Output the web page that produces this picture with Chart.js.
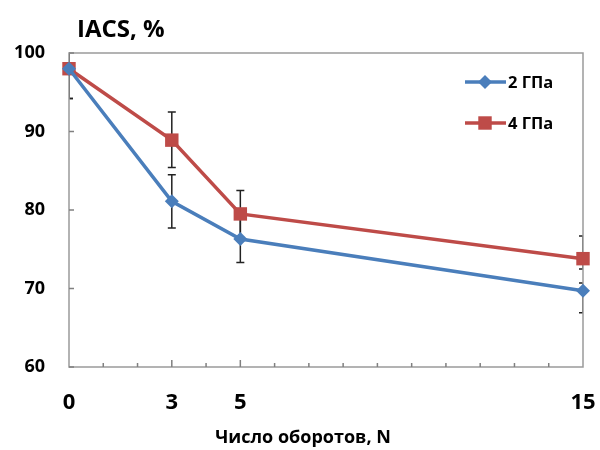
<!DOCTYPE html>
<html><head><meta charset="utf-8">
<script src="https://cdn.jsdelivr.net/npm/chart.js@4/dist/chart.umd.min.js"></script>
<style>html,body{margin:0;padding:0;background:#fff}#wrap{width:600px;height:450px}</style>
</head><body><div id="wrap"><canvas id="c" width="600" height="450"></canvas></div>
<script>
const turns = [0, 3, 5, 15];
const xTickLabels = [0, 3, 5, 15];
const yTickLabels = [60, 70, 80, 90, 100];
const seriesNames = ['2 ГПа', '4 ГПа'];
const iacs2GPa = [98.0, 81.1, 76.3, 69.7];
const iacs4GPa = [98.0, 88.9, 79.5, 73.8];
const err2Low = [94.2, 77.7, 73.3, 66.9];
const err2High = [100.5, 84.5, 79.3, 70.7];
const err4Low = [94.2, 85.4, 76.5, 72.5];
const err4High = [100.5, 92.5, 82.5, 76.7];
const xTitle = 'Число оборотов, N';
const yTitle = 'IACS, %';

const FONT = '"Open Sans", Lato, sans-serif';
const BLUE = '#4a7ebb', RED = '#be4b48';

const errorBars = {
  id: 'errorBars',
  beforeDatasetsDraw(chart) {
    const {ctx, chartArea, scales: {x, y}} = chart;
    ctx.save();
    ctx.beginPath();
    ctx.rect(chartArea.left, chartArea.top, chartArea.right - chartArea.left, chartArea.bottom - chartArea.top);
    ctx.clip();
    ctx.strokeStyle = '#222';
    ctx.lineWidth = 1.5;
    [[err2Low, err2High], [err4Low, err4High]].forEach(([lo, hi]) => {
      turns.forEach((t, i) => {
        const px = x.getPixelForValue(t);
        const y1 = y.getPixelForValue(lo[i]), y2 = y.getPixelForValue(hi[i]);
        ctx.beginPath();
        ctx.moveTo(px, y1); ctx.lineTo(px, y2);
        ctx.moveTo(px - 4, y1); ctx.lineTo(px + 4, y1);
        ctx.moveTo(px - 4, y2); ctx.lineTo(px + 4, y2);
        ctx.stroke();
      });
    });
    ctx.restore();
  }
};

const frame = {
  id: 'frame',
  beforeDatasetsDraw(chart) {
    const {ctx, chartArea: a, scales: {x, y}} = chart;
    ctx.save();
    ctx.strokeStyle = '#9a9a9a';
    ctx.lineWidth = 1.5;
    ctx.strokeRect(a.left, a.top, a.right - a.left, a.bottom - a.top);
    ctx.strokeStyle = '#808080';
    ctx.beginPath();
    for (let v = 1; v < 15; v++) {
      const px = x.getPixelForValue(v);
      const len = (v === 3 || v === 5) ? 7 : 4;
      ctx.moveTo(px, a.bottom); ctx.lineTo(px, a.bottom - len);
    }
    yTickLabels.forEach(v => {
      const py = y.getPixelForValue(v);
      ctx.moveTo(a.left, py); ctx.lineTo(a.left + 5, py);
    });
    ctx.stroke();
    ctx.restore();
  },
  afterDraw(chart) {
    const {ctx, chartArea: a} = chart;
    ctx.save();
    ctx.fillStyle = '#000';
    ctx.font = 'bold 24px ' + FONT;
    ctx.textBaseline = 'middle';
    ctx.fillText(yTitle, a.left + 8, 30);
    ctx.font = 'bold 18px ' + FONT;
    ctx.textAlign = 'center';
    ctx.fillText(xTitle, 303, 438);
    ctx.textAlign = 'left';
    // legend
    const items = [{c: BLUE, s: 'rectRot', r: 7, yy: 82}, {c: RED, s: 'rect', r: 9.5, yy: 123}];
    items.forEach((it, i) => {
      ctx.strokeStyle = it.c; ctx.lineWidth = 3.5;
      ctx.beginPath(); ctx.moveTo(465, it.yy); ctx.lineTo(506, it.yy); ctx.stroke();
      ctx.fillStyle = it.c;
      Chart.helpers.drawPoint(ctx, {pointStyle: it.s, radius: it.r, borderWidth: 0}, 485, it.yy);
      ctx.fillStyle = '#000';
      ctx.font = 'bold 16.5px ' + FONT;
      ctx.textBaseline = 'middle';
      ctx.fillText(seriesNames[i], 508, it.yy + 1);
    });
    ctx.restore();
  }
};

new Chart(document.getElementById('c'), {
  type: 'line',
  data: {
    datasets: [
      {label: seriesNames[0], data: turns.map((t, i) => ({x: t, y: iacs2GPa[i]})),
       borderColor: BLUE, backgroundColor: BLUE, borderWidth: 3.5, pointStyle: 'rectRot',
       pointRadius: 7, pointHoverRadius: 7, pointBorderWidth: 0, clip: false, tension: 0},
      {label: seriesNames[1], data: turns.map((t, i) => ({x: t, y: iacs4GPa[i]})),
       borderColor: RED, backgroundColor: RED, borderWidth: 3.5, pointStyle: 'rect',
       pointRadius: 9.5, pointHoverRadius: 9.5, pointBorderWidth: 0, clip: false, tension: 0}
    ]
  },
  options: {
    responsive: false,
    animation: false,
    events: [],
    layout: {padding: {top: 53, right: 17, bottom: 0, left: 0}},
    plugins: {legend: {display: false}, tooltip: {enabled: false}, title: {display: false}},
    scales: {
      x: {
        type: 'linear', min: 0, max: 15,
        afterBuildTicks(s) { s.ticks = xTickLabels.map(v => ({value: v})); },
        afterFit(s) { s.height = 83; s.paddingLeft = 0; s.paddingRight = 0; },
        grid: {display: false, drawTicks: false},
        border: {display: false},
        ticks: {padding: 23, color: '#000', font: {family: FONT, size: 22, weight: 'bold'}, maxRotation: 0, autoSkip: false},
        title: {display: false}
      },
      y: {
        min: 60, max: 100,
        afterBuildTicks(s) { s.ticks = yTickLabels.map(v => ({value: v})); },
        afterFit(s) { s.width = 69; s.paddingTop = 0; s.paddingBottom = 0; },
        grid: {display: false, drawTicks: false},
        border: {display: false},
        ticks: {padding: 24, color: '#000', font: {family: FONT, size: 18, weight: 'bold'}}
      }
    }
  },
  plugins: [errorBars, frame]
});
</script></body></html>
